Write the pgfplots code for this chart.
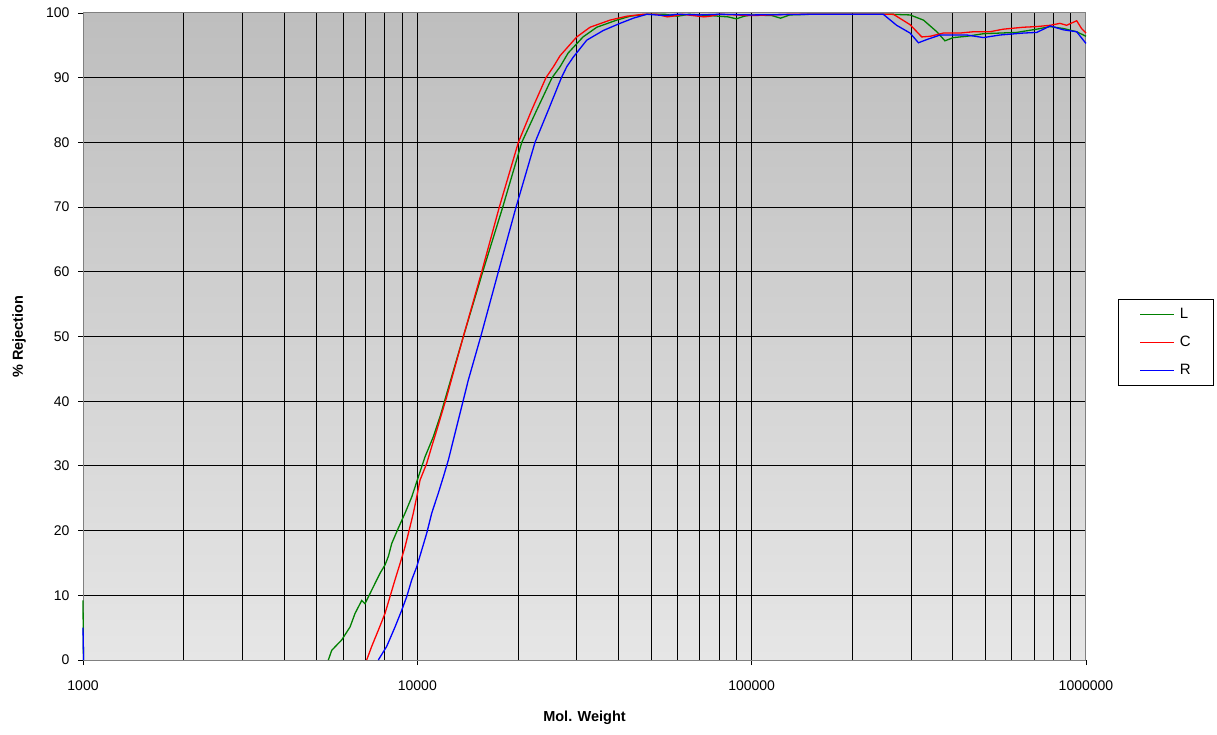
\documentclass[border=0pt]{standalone}
\usepackage{pgfplots}
\pgfplotsset{compat=1.18}
\usepackage{fontspec}
\setmainfont{Liberation Sans}
\definecolor{cL}{RGB}{0,128,0}
\definecolor{cC}{RGB}{255,0,0}
\definecolor{cR}{RGB}{0,0,255}
\definecolor{bgtop}{RGB}{190,190,190}
\definecolor{bgbot}{RGB}{230,230,230}
\begin{document}
\begin{tikzpicture}
\useasboundingbox (-83pt,-74pt) rectangle (1134pt,660pt);
\begin{axis}[
  xmode=log, log basis x=10,
  scale only axis, width=1003pt, height=647pt,
  xmin=1000, xmax=1000000, ymin=0, ymax=100,
  clip=false,
  axis background/.style={shade, top color=bgtop, bottom color=bgbot},
  axis line style={draw=gray, line width=1pt},
  xtick={1000,10000,100000},
  xticklabels={1000,10000,100000},
  extra x ticks={1000000}, extra x tick labels={1000000},
  extra x tick style={grid=none},
  minor xtick={2000,3000,4000,5000,6000,7000,8000,9000,20000,30000,40000,50000,60000,70000,80000,90000,200000,300000,400000,500000,600000,700000,800000,900000},
  ytick={0,10,...,90},
  extra y ticks={100}, extra y tick style={grid=none},
  grid=both,
  major grid style={black, line width=0.9pt},
  minor grid style={black, line width=0.9pt},
  tick align=outside, tick pos=left,
  major tick length=5pt, minor tick length=0pt,
  tick style={black, line width=0.9pt},
  /pgf/number format/assume math mode=true,
  ticklabel style={font=\fontsize{14}{16}\selectfont},
  xticklabel style={yshift=-12pt},
  yticklabel style={xshift=-5pt},
  xlabel={\textbf{Mol. Weight}},
  ylabel={\textbf{\% Rejection}},
  label style={font=\fontsize{14.5}{17}\selectfont},
  xlabel style={at={(axis description cs:0.5,0)}, anchor=center, yshift=-58pt},
  ylabel style={at={([xshift=-64pt]axis description cs:0,0.5)}, anchor=center},
  legend style={at={(axis description cs:1.0322,0.5575)}, anchor=north west,
    draw=black, line width=0.8pt, fill=white, font=\fontsize{15}{18}\selectfont,
    inner xsep=21pt, inner ysep=6pt, row sep=10pt,
    nodes={inner sep=2pt, text height=11pt, text depth=3pt}},
  legend cell align=left,
  legend image code/.code={\draw[#1, line width=1.2pt] (0pt,0pt) -- (34pt,0pt);},
  every axis plot/.append style={line width=1.3pt},
]
\addplot[cL, forget plot] coordinates {(1000,9.2) (1003,0)};
\addplot[cR, forget plot] coordinates {(1000,5.0) (1004,0)};
\addplot[cL] coordinates {
(5418,0) (5546,1.5) (5940,3.1) (6291,5.1) (6512,7.2) (6818,9.2) (6975,8.7)
(7304,10.8) (7734,13.4) (8005,14.7) (8190,16.0) (8383,18.0) (8773,20.4)
(9188,22.7) (9623,25.2) (10070,28.3) (10544,31.4) (11164,34.5) (11691,37.6)
(12246,41.2) (13730,50) (15690,60) (18010,70) (20530,80) (22760,85) (25290,90)
(26730,91.7) (28240,93.8) (31310,96.3) (34420,97.8) (39490,98.9) (43290,99.5) (48560,99.8)
(55000,99.8) (60000,99.5) (65000,99.8) (75000,99.6) (85000,99.4) (90000,99.1)
(95000,99.5) (100000,99.7) (115000,99.6) (122000,99.2) (130000,99.7)
(150000,99.8) (200000,99.8) (260000,99.8) (297700,99.7) (326600,98.9)
(358000,97.1) (378600,95.7) (401000,96.2) (440000,96.4) (493400,96.8)
(553500,96.9) (620700,97.0) (712700,97.5) (781800,97.9) (855900,97.6)
(938000,97.1) (1000000,96.4)};
\addlegendentry{\hspace{3pt}L}
\addplot[cC] coordinates {
(7056,0) (7304,2.1) (7644,4.6) (8005,7.2) (8285,9.8) (8576,12.4) (8877,14.9)
(9188,17.5) (9510,20.6) (9728,22.7) (9958,25.2) (10187,27.8) (10669,30.4)
(11043,33.0) (11430,35.5) (11830,38.1) (12246,40.7) (13730,50) (15580,60)
(17590,70) (20050,80) (21980,85) (24250,90) (25530,91.7) (26730,93.4) (29980,96.3) (32860,97.8)
(37710,98.9) (42310,99.5) (47330,99.8) (52000,99.8) (56000,99.4) (58000,99.5)
(62000,99.8) (72000,99.4) (75000,99.5) (80000,99.8) (100000,99.6)
(130000,99.8) (170000,99.8) (265400,99.8) (297700,98.2) (322700,96.3)
(342000,96.4) (374300,96.9) (420000,96.9) (460000,97.1) (516000,97.1)
(566000,97.5) (650000,97.8) (712700,97.9) (781800,98.1) (836000,98.4)
(875000,98.1) (938000,98.8) (970000,97.6) (1000000,96.9)};
\addlegendentry{\hspace{3pt}C}
\addplot[cR] coordinates {
(7644,0) (8097,2.1) (8576,5.1) (8981,7.7) (9296,9.8) (9623,12.4) (9958,14.4)
(10308,17.0) (10669,19.6) (11043,22.7) (11556,25.8) (11962,28.3)
(12381,30.9) (12815,34.0) (13265,37.1) (13730,40.2) (14212,43.3) (15480,50)
(17470,60) (19740,70) (22490,80) (24650,85) (26970,90) (27990,91.7) (29290,93.2) (32120,95.8)
(36010,97.3) (40400,98.4) (44280,99.2) (48560,99.8) (55000,99.6)
(60000,99.8) (70000,99.7) (80000,99.8) (100000,99.7) (150000,99.8)
(247600,99.8) (271400,98.1) (297700,96.9) (315400,95.4) (334300,95.9)
(366300,96.6) (440000,96.6) (493400,96.2) (553500,96.6) (650000,96.9)
(712700,97.0) (781800,98.0) (855900,97.4) (938000,97.1) (982000,95.8)
(1000000,95.3)};
\addlegendentry{\hspace{3pt}R}
\end{axis}
\end{tikzpicture}
\end{document}
